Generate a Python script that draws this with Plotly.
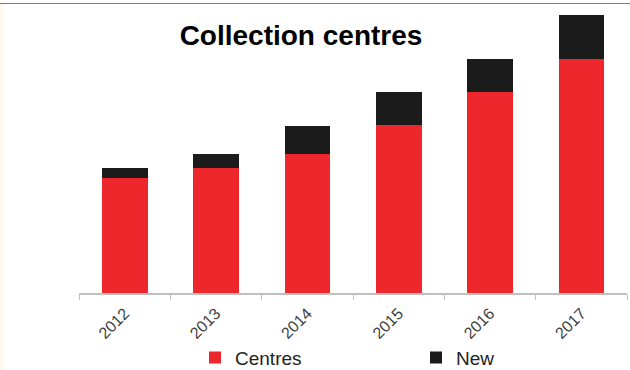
import plotly.graph_objects as go

years = ["2012", "2013", "2014", "2015", "2016", "2017"]
centres = [115, 125, 139, 168, 201, 234]
new = [10, 14, 28, 33, 33, 44]

W, H = 630, 370
L, R, T, B = 79, 3, 10, 77
pw = W - L - R
ph = H - T - B

fig = go.Figure()
fig.add_trace(go.Bar(x=years, y=centres, name="Centres",
                     marker=dict(color="#ee272d", line=dict(width=0))))
fig.add_trace(go.Bar(x=years, y=new, name="New",
                     marker=dict(color="#1b1b1b", line=dict(width=0))))

def px_x(p):
    return (p - L) / pw

def px_y(p):
    return (H - B - p) / ph

fig.update_layout(
    width=W, height=H,
    margin=dict(l=L, r=R, t=T, b=B, autoexpand=False),
    barmode="stack",
    bargap=0.5,
    paper_bgcolor="white",
    plot_bgcolor="white",
    font=dict(family="Liberation Sans, Arial, sans-serif", color="#333333"),
    title=dict(text="<b>Collection centres</b>", x=301 / W, xref="container", xanchor="center",
               y=1 - 35.5 / H, yref="container", yanchor="middle",
               font=dict(size=28, color="#000000", family="Liberation Sans, Arial, sans-serif")),
    xaxis=dict(type="category", showline=True, linecolor="#c0c0c0", linewidth=1.5,
               ticks="outside", tickson="boundaries", ticklen=5, tickcolor="#c0c0c0",
               tickangle=-45, ticklabelstandoff=3, automargin=False,
               tickfont=dict(size=16, color="#404040"), showgrid=False),
    yaxis=dict(visible=False, range=[0, ph], fixedrange=True, automargin=False),
    showlegend=True,
    legend=dict(orientation="h", x=195 / W, xref="container", xanchor="left",
                y=1 - 357.7 / H, yref="container", yanchor="middle",
                entrywidth=176, entrywidthmode="pixels",
                font=dict(size=19, color="#222222"), traceorder="normal",
                bgcolor="rgba(0,0,0,0)"),
    shapes=[
        dict(type="line", xref="paper", yref="paper", x0=px_x(0), x1=px_x(W),
             y0=px_y(3.5), y1=px_y(3.5), line=dict(color="#1a9ad6", width=1.2)),
        dict(type="rect", xref="paper", yref="paper", x0=px_x(0), x1=px_x(3),
             y0=px_y(H), y1=px_y(4), fillcolor="#fff8ec", line=dict(width=0)),
    ],
)

fig.write_html("out.html")
